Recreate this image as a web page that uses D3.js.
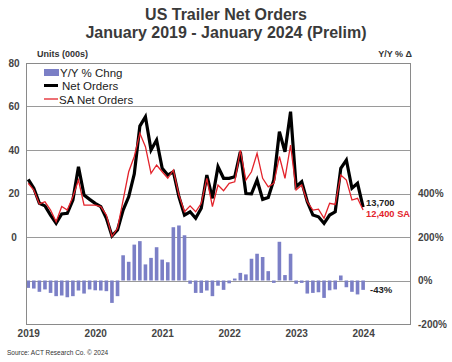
<!DOCTYPE html>
<html>
<head>
<meta charset="utf-8">
<script src="https://cdn.jsdelivr.net/npm/d3@7"></script>
<style>
  body { margin: 0; background: #fff; }
  svg { font-family: "Liberation Sans", Arial, sans-serif; }
</style>
</head>
<body>
<svg id="chart" width="452" height="362"></svg>
<script>
// monthly data, Jan 2019 .. Jan 2024 (thousand units / %)
const years = ["2019", "2020", "2021", "2022", "2023", "2024"];
const netOrders = [
  26.5, 22.4, 15.5, 14.3, 10.1, 6.3, 10.6, 10.9, 17, 32.3, 19.3, 17.3,
  15.5, 14, 8.6, 0.5, 3.2, 12.4, 18.5, 29, 51, 55.3, 40, 44.6,
  31.6, 28.5, 30, 18.5, 10.1, 11.6, 8.6, 13.2, 28.5, 17.8, 32.3, 27,
  27, 27.7, 39.2, 20, 19.8, 26.2, 17.3, 18.2, 26.2, 48.4, 39.2, 57.6,
  23.1, 25.4, 16.2, 10.1, 9.3, 6.3, 10.1, 11.6, 31.6, 35.4, 22.4, 24.7,
  13.7
];
const saNetOrders = [
  24.7, 21.6, 15.2, 16.2, 12.4, 7, 14, 12.4, 18.5, 26.2, 14.7, 14.7,
  14.7, 14, 10.1, 0.2, 4, 17, 30, 37, 47.7, 41.5, 29.3, 33.1,
  30, 27, 30.8, 19.3, 11.6, 14.3, 11.6, 15.5, 27, 14, 23.9, 21.3,
  24.7, 25.4, 40, 26.2, 30, 38.5, 27, 23.1, 24.7, 37, 27, 42.3,
  21.6, 23.9, 16.2, 12.4, 12.8, 8.6, 15.5, 15, 28.5, 26.2, 17, 17.8,
  12.4
];
const yoyChange = [
  -34, -37, -52, -41, -57, -72, -69, -77, -72, -46, -60, -41,
  -45, -46, -49, -103, -72, 116, 86, 165, 181, 74, 104, 153,
  96, 84, 245, 253, 208, -15, -57, -57, -46, -72, -24, -43,
  -13, 9, 35, 28, 100, 123, 108, 43, -11, 178, 25, 123,
  -15, -11, -60, -57, -54, -80, -45, -41, 23, -31, -52, -64,
  -43
];
const leftTicks = [0, 20, 40, 60, 80];
const rightTicks = [-200, 0, 200, 400];

const svg = d3.select("#chart");
const plotL = 26, plotR = 410, plotT = 63, plotB = 324;

const x = d3.scaleLinear().domain([-0.4, 68.4]).range([plotL, plotR]);
const yL = d3.scaleLinear().domain([-40, 80]).range([plotB, plotT]);
const yR = d3.scaleLinear().domain([-200, 1000]).range([plotB, plotT]);

// title
svg.append("text").attr("x", 226).attr("y", 20).attr("text-anchor", "middle")
  .attr("font-size", 16).attr("font-weight", "bold").attr("fill", "#3a3a3a")
  .text("US Trailer Net Orders");
svg.append("text").attr("x", 226).attr("y", 38).attr("text-anchor", "middle")
  .attr("font-size", 16).attr("font-weight", "bold").attr("fill", "#3a3a3a")
  .text("January 2019 - January 2024 (Prelim)");

svg.append("text").attr("x", 37).attr("y", 57).attr("font-size", 9)
  .attr("font-weight", "bold").attr("fill", "#333").text("Units (000s)");
svg.append("text").attr("x", 412).attr("y", 57).attr("text-anchor", "end").attr("font-size", 9)
  .attr("font-weight", "bold").attr("fill", "#333").text("Y/Y % \u0394");

// grid
const grid = svg.append("g").attr("stroke", "#9a9a9a").attr("stroke-width", 1);
[0, 20, 40, 60].forEach(v => {
  grid.append("line").attr("x1", plotL).attr("x2", plotR)
    .attr("y1", Math.round(yL(v)) + 0.5).attr("y2", Math.round(yL(v)) + 0.5);
});
grid.append("line").attr("x1", plotL).attr("x2", plotR)
  .attr("y1", Math.round(yR(0)) + 0.5).attr("y2", Math.round(yR(0)) + 0.5);

// bars
svg.append("g").selectAll("rect")
  .data(yoyChange)
  .join("rect")
  .attr("x", (d, i) => x(i) - 1.8)
  .attr("width", 3.6)
  .attr("y", d => d >= 0 ? yR(d) : yR(0))
  .attr("height", d => Math.abs(yR(d) - yR(0)))
  .attr("fill", "#7b7fc6");

// frame
svg.append("rect").attr("x", plotL + 0.5).attr("y", plotT + 0.5)
  .attr("width", plotR - plotL).attr("height", plotB - plotT)
  .attr("fill", "none").attr("stroke", "#8a8a8a").attr("stroke-width", 1);

// lines
const line = d3.line().x((d, i) => x(i)).y(d => yL(d));
svg.append("path").datum(netOrders).attr("d", line)
  .attr("fill", "none").attr("stroke", "#000").attr("stroke-width", 3.2)
  .attr("stroke-linejoin", "miter");
svg.append("path").datum(saNetOrders).attr("d", line)
  .attr("fill", "none").attr("stroke", "#e3232b").attr("stroke-width", 1.3);

// axes
const axisL = d3.axisLeft(yL).tickValues(leftTicks).tickSize(0).tickPadding(8);
svg.append("g").attr("transform", `translate(${plotL},0)`).call(axisL)
  .call(g => g.select(".domain").remove())
  .selectAll("text").attr("font-size", 10).attr("font-weight", "bold").attr("fill", "#444")
  .attr("font-family", "Liberation Sans, Arial, sans-serif").attr("text-anchor", "middle").attr("dx", -4);

const axisR = d3.axisRight(yR).tickValues(rightTicks).tickSize(0).tickPadding(8)
  .tickFormat(d => d + "%");
svg.append("g").attr("transform", `translate(${plotR},0)`).call(axisR)
  .call(g => g.select(".domain").remove())
  .selectAll("text").attr("font-size", 10).attr("font-weight", "bold").attr("fill", "#444")
  .attr("font-family", "Liberation Sans, Arial, sans-serif");

const axisX = d3.axisBottom(x).tickValues(years.map((y, i) => i * 12)).tickSize(0).tickPadding(6)
  .tickFormat((d, i) => years[i]);
svg.append("g").attr("transform", `translate(0,${plotB})`).call(axisX)
  .call(g => g.select(".domain").remove())
  .selectAll("text").attr("font-size", 10).attr("font-weight", "bold").attr("fill", "#444")
  .attr("font-family", "Liberation Sans, Arial, sans-serif");

// end labels
const last = netOrders.length - 1;
svg.append("text").attr("x", x(last) + 3).attr("y", yL(netOrders[last]) - 1)
  .attr("font-size", 9.3).attr("font-weight", "bold").attr("fill", "#222").text("13,700");
svg.append("text").attr("x", x(last) + 3).attr("y", yL(netOrders[last]) + 10)
  .attr("font-size", 9.3).attr("font-weight", "bold").attr("fill", "#e3232b").text("12,400 SA");
svg.append("text").attr("x", x(last) + 7).attr("y", yR(0) + 12)
  .attr("font-size", 9.5).attr("font-weight", "bold").attr("fill", "#222").text("-43%");

// legend
const legend = svg.append("g").attr("font-size", 11.5).attr("fill", "#222");
legend.append("rect").attr("x", 44).attr("y", 69).attr("width", 15).attr("height", 7).attr("fill", "#7b7fc6");
legend.append("text").attr("x", 60).attr("y", 76.5).text("Y/Y % Chng");
legend.append("line").attr("x1", 44).attr("x2", 58).attr("y1", 85.5).attr("y2", 85.5)
  .attr("stroke", "#000").attr("stroke-width", 3);
legend.append("text").attr("x", 62).attr("y", 90).text("Net Orders");
legend.append("line").attr("x1", 44).attr("x2", 58).attr("y1", 99).attr("y2", 99)
  .attr("stroke", "#e3232b").attr("stroke-width", 1.3);
legend.append("text").attr("x", 59).attr("y", 103.5).text("SA Net Orders");

// source
svg.append("text").attr("x", 7).attr("y", 355).attr("font-size", 6.5).attr("fill", "#333")
  .text("Source: ACT Research Co. \u00a9 2024");
</script>
</body>
</html>
